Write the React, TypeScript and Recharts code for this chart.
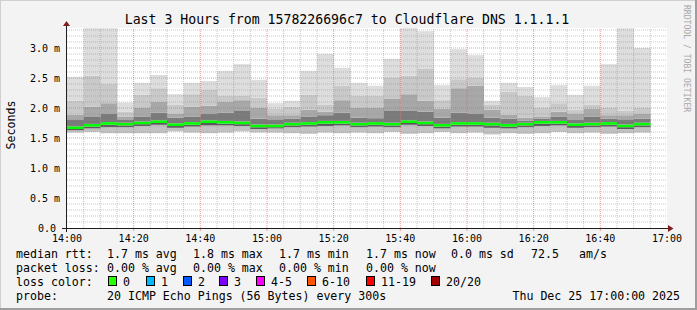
import React from 'react';
import { ComposedChart, Bar, XAxis, YAxis, CartesianGrid, ReferenceLine } from 'recharts';

// 5-minute slots (last slot has no data yet)
const slots = [
  '14:00','14:05','14:10','14:15','14:20','14:25','14:30','14:35','14:40','14:45','14:50','14:55',
  '15:00','15:05','15:10','15:15','15:20','15:25','15:30','15:35','15:40','15:45','15:50','15:55',
  '16:00','16:05','16:10','16:15','16:20','16:25','16:30','16:35','16:40','16:45','16:50','16:55',
];

// RTT smoke percentiles (ms)
const minRtt = [1.59,1.60,1.58,1.58,1.58,1.58,1.61,1.59,1.58,1.59,1.61,1.59,1.59,1.58,1.57,1.59,1.58,1.59,1.58,1.60,1.57,1.58,1.60,1.58,1.59,1.56,1.58,1.57,1.58,1.60,1.58,1.59,1.57,1.58,1.59];
const lowRtt = [1.63,1.66,1.68,1.68,1.70,1.72,1.67,1.69,1.71,1.71,1.70,1.65,1.66,1.68,1.69,1.70,1.71,1.68,1.69,1.68,1.72,1.70,1.66,1.69,1.69,1.67,1.66,1.68,1.70,1.71,1.67,1.68,1.69,1.65,1.68];
const medianRtt = [1.67,1.71,1.74,1.73,1.75,1.77,1.72,1.74,1.77,1.76,1.75,1.70,1.70,1.73,1.74,1.76,1.76,1.73,1.74,1.73,1.77,1.75,1.71,1.74,1.74,1.73,1.71,1.73,1.76,1.76,1.72,1.73,1.74,1.70,1.73];
const darkRtt = [1.80,1.85,1.90,1.81,1.86,1.92,1.84,1.86,1.90,1.92,1.95,1.82,1.80,1.82,1.86,1.88,1.92,1.84,1.83,1.95,1.96,1.94,1.84,1.92,1.90,1.84,1.82,1.79,1.82,1.86,1.81,1.86,1.82,1.80,1.82];
const midRtt = [1.89,2.02,2.08,1.86,2.00,2.11,1.91,2.02,2.04,2.11,2.13,2.00,1.88,1.88,1.97,1.94,2.13,2.01,2.01,2.15,2.23,2.12,1.99,2.33,2.37,1.97,1.89,1.84,1.86,1.94,1.90,1.99,1.88,1.88,1.91];
const upperRtt = [2.12,2.54,2.41,1.94,2.22,2.33,2.05,2.23,2.30,2.21,2.21,2.17,1.99,2.02,2.22,2.05,2.37,2.21,2.21,2.51,2.54,2.65,2.13,2.48,2.51,2.05,2.27,2.21,2.00,2.08,1.97,2.06,2.00,1.95,2.00];
const maxRtt = [2.52,3.33,3.33,2.09,2.42,2.55,2.23,2.42,2.45,2.62,2.73,2.47,2.08,2.12,2.62,2.90,2.67,2.42,2.37,2.82,3.33,3.28,2.38,2.98,2.88,2.12,2.42,2.35,2.18,2.38,2.22,2.37,2.73,3.33,3.00];

const timeTicks = [0,20,40,60,80,100,120,140,160,180];
const timeTickLabels = ['14:00','14:20','14:40','15:00','15:20','15:40','16:00','16:20','16:40','17:00'];
const yTicks = [0,0.5,1.0,1.5,2.0,2.5,3.0];
const yTickLabels = ['0.0','0.5 m','1.0 m','1.5 m','2.0 m','2.5 m','3.0 m'];

const title = 'Last 3 Hours from 1578226696c7 to Cloudflare DNS 1.1.1.1';
const rttRow = [['median rtt:',16],['1.7 ms avg',107],['1.8 ms max',193],['1.7 ms min',279],['1.7 ms now',366],['0.0 ms sd',451],['72.5',531],['am/s',579]];
const lossRow = [['packet loss:',16],['0.00 % avg',107],['0.00 % max',193],['0.00 % min',279],['0.00 % now',366]];
const lossLabels = ['0','1','2','3','4-5','6-10','11-19','20/20'];
const lossColors = ['#26ff00','#00b8ff','#0059ff','#7e00ff','#ff00ff','#ff5500','#ff0000','#a10000'];
const lossBoxX = [108,146,183,219,256,307,366,431];
const probeText = '20 ICMP Echo Pings (56 Bytes) every 300s';
const dateText = 'Thu Dec 25 17:00:00 2025';

const toMinutes = (s: string) => {
  const [h, m] = s.split(':').map(Number);
  return (h - 14) * 60 + m;
};

const data = slots.map((slot, i) => {
  const t = toMinutes(slot);
  if (i >= maxRtt.length) return { slot, t };
  const m = medianRtt[i];
  return {
    slot,
    t,
    base: minRtt[i],
    lowLight: lowRtt[i] - minRtt[i],
    lowDark: m - 0.02 - lowRtt[i],
    med: 0.045,
    hiDark: darkRtt[i] - (m + 0.025),
    hiMid: midRtt[i] - darkRtt[i],
    hiUp: upperRtt[i] - midRtt[i],
    hiTop: maxRtt[i] - upperRtt[i],
  };
});

const minorX: number[] = [];
for (let t = 5; t < 180; t += 5) if (t % 20 !== 0) minorX.push(t);
const minorY: number[] = [];
for (let k = 1; k <= 33; k++) if (k % 5 !== 0) minorY.push(k / 10);
const majorX = timeTicks.slice(1, -1);
const majorY = yTicks.slice(1);

const MONO = '"DejaVu Sans Mono", monospace';
const MINOR = 'rgba(143,143,143,0.5)';
const MAJOR = 'rgba(222,79,79,0.55)';

const XTick = (props: any) => {
  const { x, y, payload } = props;
  const idx = timeTicks.indexOf(payload.value);
  return (
    <g>
      {idx > 0 && idx < timeTicks.length - 1 && (
        <line x1={x} y1={y + 0.5} x2={x} y2={y + 3} stroke={MAJOR} strokeWidth={1} />
      )}
      <text x={x} y={y + 13.5} textAnchor="middle" fontFamily={MONO} fontSize={10} fill="#000">
        {timeTickLabels[idx]}
      </text>
    </g>
  );
};
const YTick = (props: any) => {
  const { x, y, payload } = props;
  const idx = yTicks.indexOf(payload.value);
  const lab = yTickLabels[idx];
  return (
    <text x={payload.value === 0 ? x - 11 : x - 7} y={y + 3.5} textAnchor="end" fontFamily={MONO} fontSize={10} fill="#000">
      {lab}
    </text>
  );
};

const layers: [string, string][] = [
  ['lowLight', '#c2c2c2'],
  ['lowDark', '#5a5a5a'],
  ['med', '#00ff00'],
  ['hiDark', '#7a7a7a'],
  ['hiMid', '#a8a8a8'],
  ['hiUp', '#c9c9c9'],
  ['hiTop', '#dddddd'],
];

export default function App() {
  return (
    <div style={{ position: 'absolute', left: 0, top: 0, width: 697, height: 310, background: '#f3f3f3', overflow: 'hidden' }}>
      <style>{`.smoke rect { shape-rendering: crispEdges; }`}</style>
      <div className="smoke" style={{ position: 'absolute', left: 0, top: 0 }}>
        <ComposedChart width={697} height={310} data={data} margin={{ top: 28, right: 30, bottom: 62, left: 7 }} barCategoryGap={0} barGap={0}>
          <CartesianGrid fill="#ffffff" horizontal={false} vertical={false} />
          <XAxis xAxisId="cat" dataKey="slot" type="category" hide />
          <XAxis xAxisId={0} dataKey="t" type="number" domain={[0, 180]} allowDataOverflow ticks={timeTicks} height={20}
            axisLine={false} tickLine={false} tickSize={0} tickMargin={0} tick={<XTick />} interval={0} />
          <YAxis type="number" domain={[0, 10 / 3]} allowDataOverflow ticks={yTicks} width={60}
            axisLine={false} tickLine={false} tickSize={0} tickMargin={0} tick={<YTick />} interval={0} />
          <Bar xAxisId="cat" dataKey="base" stackId="s" fill="none" isAnimationActive={false} />
          {layers.map(([k, c]) => (
            <Bar key={k} xAxisId="cat" dataKey={k} stackId="s" fill={c} isAnimationActive={false} />
          ))}
          {minorX.map(t => (
            <ReferenceLine key={'mx' + t} x={t} stroke={MINOR} strokeDasharray="1 1" strokeWidth={1} />
          ))}
          {minorY.map(v => (
            <ReferenceLine key={'my' + v} y={v} stroke={MINOR} strokeDasharray="1 1" strokeWidth={1} />
          ))}
          {majorX.map(t => (
            <ReferenceLine key={'Mx' + t} x={t} stroke={MAJOR} strokeDasharray="1 1" strokeWidth={1} />
          ))}
          {majorY.map(v => (
            <ReferenceLine key={'My' + v} y={v} stroke={MAJOR} strokeDasharray="1 1" strokeWidth={1} />
          ))}
        </ComposedChart>
      </div>
      <svg width={697} height={310} style={{ position: 'absolute', left: 0, top: 0, pointerEvents: 'none' }}>
        <line x1={0} y1={0.5} x2={697} y2={0.5} stroke="#cfcfcf" strokeWidth={1} />
        <line x1={0.5} y1={0} x2={0.5} y2={310} stroke="#cfcfcf" strokeWidth={1} />
        <line x1={0} y1={309} x2={697} y2={309} stroke="#9e9e9e" strokeWidth={2} />
        <line x1={696} y1={0} x2={696} y2={310} stroke="#9e9e9e" strokeWidth={2} />
        <line x1={62} y1={228.5} x2={669} y2={228.5} stroke="#1f1f1f" strokeWidth={1} />
        <line x1={66.5} y1={232} x2={66.5} y2={25} stroke="#1f1f1f" strokeWidth={1} />
        <polygon points="668,225 673.5,228.5 668,232" fill="#801f1f" />
        <polygon points="63,26 66.5,21 70,26" fill="#801f1f" />
        <text x={347} y={23.5} textAnchor="middle" fontFamily={MONO} fontSize={13.2} fill="#000">{title}</text>
        <text x={15} y={125} textAnchor="middle" fontFamily={MONO} fontSize={11.6} fill="#000" transform="rotate(-90 15 125)">Seconds</text>
        <text x={684} y={5} fontFamily={MONO} fontSize={8.1} fill="#a8a8a8" transform="rotate(90 684 5)">RRDTOOL / TOBI OETIKER</text>
        {rttRow.map(([t, x]) => (
          <text key={'r' + t} x={x as number} y={258} fontFamily={MONO} fontSize={11.6} fill="#000">{t}</text>
        ))}
        {lossRow.map(([t, x]) => (
          <text key={'l' + t} x={x as number} y={271.5} fontFamily={MONO} fontSize={11.6} fill="#000">{t}</text>
        ))}
        <text x={16} y={285.5} fontFamily={MONO} fontSize={11.6} fill="#000">loss color:</text>
        {lossLabels.map((lab, i) => (
          <g key={'b' + lab}>
            <rect x={lossBoxX[i] + 0.5} y={276.5} width={8} height={9} fill={lossColors[i]} stroke="#000" strokeWidth={1} />
            <text x={lossBoxX[i] + 15} y={285.5} fontFamily={MONO} fontSize={11.6} fill="#000">{lab}</text>
          </g>
        ))}
        <text x={16} y={299.5} fontFamily={MONO} fontSize={11.6} fill="#000">probe:</text>
        <text x={107} y={299.5} fontFamily={MONO} fontSize={11.6} fill="#000">{probeText}</text>
        <text x={680} y={299.5} textAnchor="end" fontFamily={MONO} fontSize={11.6} fill="#000">{dateText}</text>
      </svg>
    </div>
  );
}
